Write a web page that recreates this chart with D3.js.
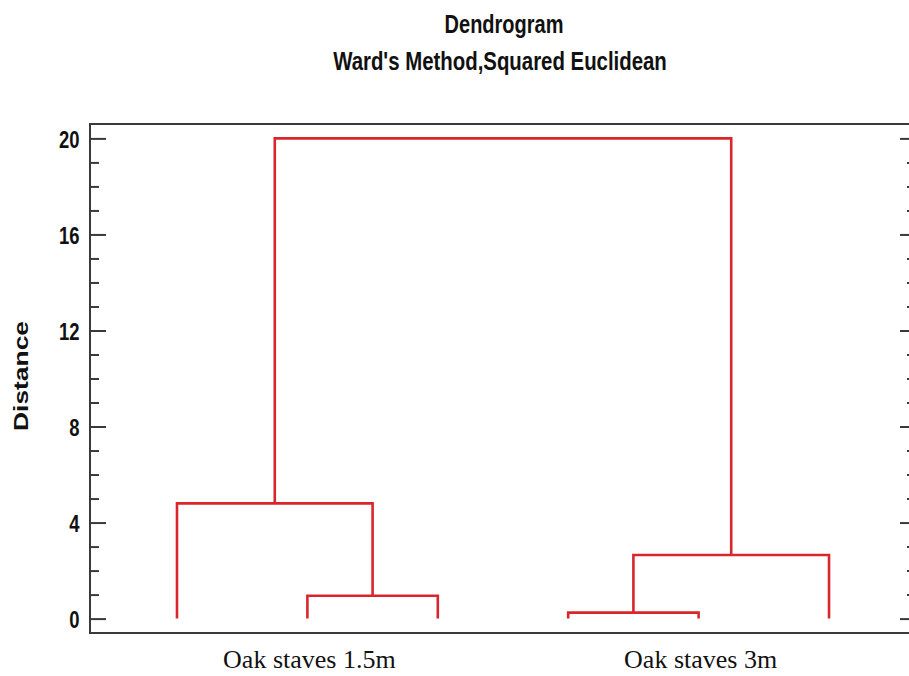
<!DOCTYPE html>
<html>
<head>
<meta charset="utf-8">
<script src="https://cdn.jsdelivr.net/npm/d3@7"></script>
<style>
  html, body { margin: 0; padding: 0; background: #ffffff; }
  svg { display: block; }
  .sans { font-family: "Liberation Sans", Arial, sans-serif; font-weight: bold; fill: #111; }
</style>
</head>
<body>
<svg id="chart" width="909" height="676"></svg>
<script>
// Leaves of the dendrogram, left to right
const leaves = ["L1", "L2", "L3", "L4", "L5", "L6"];
// Agglomeration steps: [left child, right child, distance]
// Children are leaf names or ids of earlier merges (M1, M2, ...)
const merges = [
  ["L2", "L3", 0.95],
  ["L4", "L5", 0.25],
  ["L1", "M1", 4.8],
  ["M2", "L6", 2.65],
  ["M3", "M4", 20.0]
];
// Group labels shown under the leaves
const groupLabels = ["Oak staves 1.5m", "Oak staves 3m"];
const groupMembers = [["L1", "L2", "L3"], ["L4", "L5", "L6"]];
// Y axis ticks
const majorTicks = [0, 4, 8, 12, 16, 20];
const minorTicks = [1, 2, 3, 5, 6, 7, 9, 10, 11, 13, 14, 15, 17, 18, 19];

const svg = d3.select("#chart");
const frame = { left: 90, right: 916, top: 124, bottom: 633 };

const x = d3.scalePoint().domain(leaves).range([frame.left, frame.right]).padding(0.667);
const y = d3.scaleLinear().domain([-0.6, 20.6]).range([frame.bottom, frame.top]);

// Condensed bold text: the glyphs are squeezed horizontally
const narrow = 0.8;

// Titles
svg.append("text").attr("class", "sans")
  .attr("transform", `translate(504,33) scale(${narrow},1)`)
  .attr("text-anchor", "middle").attr("font-size", 25)
  .text("Dendrogram");
svg.append("text").attr("class", "sans")
  .attr("transform", `translate(500,70) scale(${narrow * 1.02},1)`)
  .attr("text-anchor", "middle").attr("font-size", 25)
  .text("Ward's Method,Squared Euclidean");

// Axis title (stretched along its length)
svg.append("text").attr("class", "sans")
  .attr("transform", "translate(28,376) rotate(-90) scale(1.32,1)")
  .attr("text-anchor", "middle").attr("font-size", 20)
  .text("Distance");

// Node positions: leaves sit at distance 0, merges at the midpoint of their children
const nodes = {};
leaves.forEach(l => { nodes[l] = { x: x(l), h: 0 }; });
const links = [];
merges.forEach((m, i) => {
  const a = nodes[m[0]], b = nodes[m[1]];
  const node = { x: (a.x + b.x) / 2, h: m[2] };
  nodes["M" + (i + 1)] = node;
  links.push({ a, b, h: m[2] });
});

// Dendrogram branches
svg.append("g").selectAll("path.link").data(links).join("path")
  .attr("class", "link")
  .attr("fill", "none")
  .attr("stroke", "#d9262c")
  .attr("stroke-width", 2.6)
  .attr("d", d => {
    const p = d3.path();
    p.moveTo(d.a.x, y(d.a.h));
    p.lineTo(d.a.x, y(d.h));
    p.lineTo(d.b.x, y(d.h));
    p.lineTo(d.b.x, y(d.b.h));
    return p.toString();
  });

// Frame and axes
const axisColor = "#3a3a3a";
const left = svg.append("g").attr("transform", `translate(${frame.left},0)`)
  .call(d3.axisLeft(y).tickValues(majorTicks).tickSize(-16).tickPadding(11).tickFormat(d3.format("d")));
const leftMinor = svg.append("g").attr("transform", `translate(${frame.left},0)`)
  .call(d3.axisLeft(y).tickValues(minorTicks).tickSize(-9).tickFormat(""));
const right = svg.append("g").attr("transform", `translate(${frame.right},0)`)
  .call(d3.axisRight(y).tickValues(majorTicks).tickSize(-16).tickFormat(""));
const rightMinor = svg.append("g").attr("transform", `translate(${frame.right},0)`)
  .call(d3.axisRight(y).tickValues(minorTicks).tickSize(-9).tickFormat(""));

[left, leftMinor, right, rightMinor].forEach(ax => {
  ax.select(".domain").remove();
  ax.selectAll(".tick line").attr("stroke", axisColor).attr("stroke-width", 2);
});
left.selectAll(".tick text")
  .attr("class", "sans")
  .attr("font-size", 24)
  .attr("x", -11 / narrow)
  .attr("dy", "0.36em")
  .attr("transform", `scale(${narrow * 0.96},1)`);

svg.append("rect")
  .attr("x", frame.left).attr("y", frame.top)
  .attr("width", frame.right - frame.left).attr("height", frame.bottom - frame.top)
  .attr("fill", "none").attr("stroke", axisColor).attr("stroke-width", 2);

// Group labels under the leaves
svg.selectAll("text.group").data(groupLabels).join("text")
  .attr("class", "group")
  .attr("x", (d, i) => d3.mean(groupMembers[i], l => x(l)) + 2)
  .attr("y", 668)
  .attr("text-anchor", "middle")
  .attr("font-family", "'Liberation Serif', 'Times New Roman', serif")
  .attr("font-size", 26)
  .attr("fill", "#111")
  .text(d => d);
</script>
</body>
</html>
